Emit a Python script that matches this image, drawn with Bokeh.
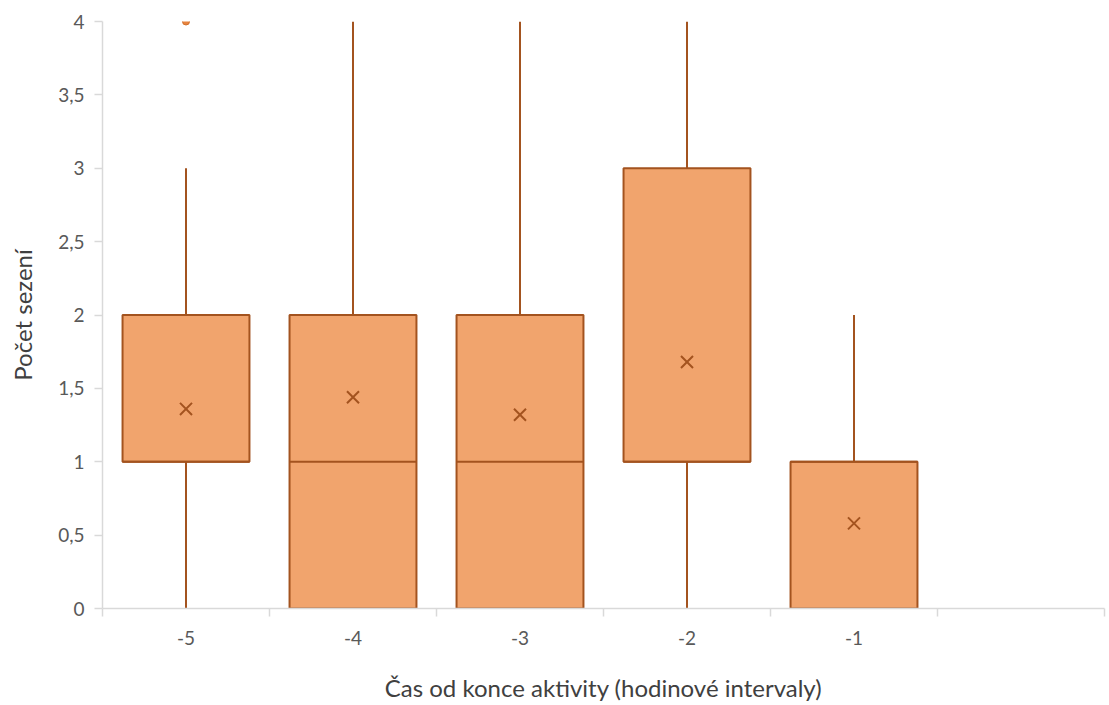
from bokeh.plotting import figure
from bokeh.models import FixedTicker, ColumnDataSource
from bokeh.embed import file_html
from bokeh.resources import INLINE

categories = ["-5", "-4", "-3", "-2", "-1"]
n_slots = 6  # one empty slot on the right, as in the reference
q1 = [1, 0, 0, 1, 0]
median = [1, 1, 1, 1, 1]
q3 = [2, 2, 2, 3, 1]
whisk_low = [0, 0, 0, 0, 0]
whisk_high = [3, 4, 4, 4, 2]
means = [1.36, 1.44, 1.32, 1.68, 0.58]
outlier_cat = ["-5"]
outlier_val = [4]
y_ticks = [0, 0.5, 1, 1.5, 2, 2.5, 3, 3.5, 4]
y_labels = ["0", "0,5", "1", "1,5", "2", "2,5", "3", "3,5", "4"]

FILL = "#F1A46D"
EDGE = "#A3531F"
AXIS = "#D9D9D9"
TXT = "#595959"
FONT = "Lato"

xc = [categories.index(c) + 0.5 for c in categories]
src = ColumnDataSource(dict(x=xc, q1=q1, med=median, q3=q3, lo=whisk_low, hi=whisk_high, mean=means))

p = figure(width=1106, height=704, x_range=(0, n_slots), y_range=(0, 4),
           output_backend="svg", toolbar_location=None,
           min_border_left=102, min_border_top=21, min_border_right=2, min_border_bottom=95)
p.outline_line_color = None
p.grid.visible = False
p.background_fill_color = "white"

LW = 2
# whiskers
p.segment(x0="x", y0="q3", x1="x", y1="hi", source=src, line_color=EDGE, line_width=LW)
p.segment(x0="x", y0="lo", x1="x", y1="q1", source=src, line_color=EDGE, line_width=LW)
p.rect(x="x", y="hi", width=0.32, height=0, source=src, line_color=EDGE, line_width=LW, fill_color=None)
p.rect(x="x", y="lo", width=0.32, height=0, source=src, line_color=EDGE, line_width=LW, fill_color=None)
# boxes
p.quad(left=[x - 0.38 for x in xc], right=[x + 0.38 for x in xc], bottom=q1, top=q3,
       fill_color=FILL, line_color=EDGE, line_width=LW)
p.segment(x0=[x - 0.38 for x in xc], x1=[x + 0.38 for x in xc], y0=median, y1=median,
          line_color=EDGE, line_width=LW)
# means
p.scatter(x="x", y="mean", source=src, marker="x", size=17, line_color=EDGE, line_width=2)
# outliers
p.scatter(x=[categories.index(c) + 0.5 for c in outlier_cat], y=outlier_val, marker="circle",
          size=7, fill_color="#E8843E", line_color="#D0702E", line_width=1)

# x axis
xa = p.xaxis[0]
xa.ticker = FixedTicker(ticks=xc, minor_ticks=list(range(n_slots + 1)))
xa.major_label_overrides = {x: c for x, c in zip(xc, categories)}
xa.major_tick_out = 0
xa.major_tick_in = 0
xa.minor_tick_out = 8
xa.minor_tick_in = 0
xa.minor_tick_line_color = AXIS
xa.axis_line_color = AXIS
xa.axis_line_width = 1.5
xa.minor_tick_line_width = 1.5
xa.major_label_standoff = 14
xa.major_label_text_font = FONT
xa.major_label_text_font_size = "19px"
xa.major_label_text_color = TXT
xa.axis_label = "Čas od konce aktivity (hodinové intervaly)"
xa.axis_label_text_font = FONT
xa.axis_label_text_font_size = "24px"
xa.axis_label_text_font_style = "normal"
xa.axis_label_text_color = "#404040"
xa.axis_label_standoff = 25

ya = p.yaxis[0]
ya.ticker = FixedTicker(ticks=y_ticks, minor_ticks=[])
ya.major_label_overrides = {t: l for t, l in zip(y_ticks, y_labels)}
ya.major_tick_out = 8
ya.major_tick_in = 0
ya.major_tick_line_color = AXIS
ya.major_tick_line_width = 1.5
ya.axis_line_color = AXIS
ya.axis_line_width = 1.5
ya.major_label_standoff = 10
ya.major_label_text_font = FONT
ya.major_label_text_font_size = "19px"
ya.major_label_text_color = TXT
ya.axis_label = "Počet sezení"
ya.axis_label_text_font = FONT
ya.axis_label_text_font_size = "24px"
ya.axis_label_text_font_style = "normal"
ya.axis_label_text_color = "#404040"
ya.axis_label_standoff = 18

open("out.html", "w").write(file_html(p, INLINE))
